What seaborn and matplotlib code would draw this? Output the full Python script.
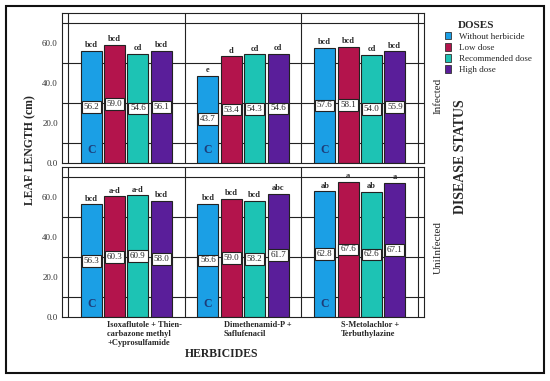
#recreate the leaf length bar chart (infected / uninfected panels)
import numpy as np
import pandas as pd
import seaborn as sns
import matplotlib.pyplot as plt
import matplotlib.transforms as mtransforms
from matplotlib.patches import Rectangle

herbicides = ["Isoxaflutole + Thien-\ncarbazone methyl\n+Cyprosulfamide",
              "Dimethenamid-P +\nSaflufenacil",
              "S-Metolachlor +\nTerbuthylazine"]
doses = ["Without herbicide", "Low dose", "Recommended dose", "High dose"]
colors = ["#1b9fe5", "#b3144c", "#1dc3b4", "#5a1e9a"]

#values per herbicide, in dose order
infected = [[56.2, 59.0, 54.6, 56.1],
            [43.7, 53.4, 54.3, 54.6],
            [57.6, 58.1, 54.0, 55.9]]
infected_letters = [["bcd", "bcd", "cd", "bcd"],
                    ["e", "d", "cd", "cd"],
                    ["bcd", "bcd", "cd", "bcd"]]
uninfected = [[56.3, 60.3, 60.9, 58.0],
              [56.6, 59.0, 58.2, 61.7],
              [62.8, 67.6, 62.6, 67.1]]
uninfected_letters = [["bcd", "a-d", "a-d", "bcd"],
                      ["bcd", "bcd", "bcd", "abc"],
                      ["ab", "a", "ab", "a"]]

sns.set_style("white")
plt.rcParams['font.family'] = ['Liberation Serif', 'DejaVu Serif']

fig = plt.figure(figsize=(5.5, 3.81), dpi=100)
ax_top = fig.add_axes([62/550, 1-163/381, 362/550, 150/381])
ax_bot = fig.add_axes([62/550, 1-317/381, 362/550, 150/381])


def long_df(values):
    rows = []
    for h, herb in enumerate(herbicides):
        for d, dose in enumerate(doses):
            rows.append({"herbicide": herb, "dose": dose, "length": values[h][d]})
    return pd.DataFrame(rows)


def draw_panel(ax, values, letters, show_x):
    df = long_df(values)
    sns.barplot(data=df, x="herbicide", y="length", hue="dose", order=herbicides,
                hue_order=doses, palette=colors, saturation=1, width=0.8, gap=0.1,
                edgecolor="#222222", linewidth=0.8, legend=False, ax=ax)
    for d, cont in enumerate(ax.containers):
        for h, bar in enumerate(cont):
            x = bar.get_x() + bar.get_width() / 2
            v = values[h][d]
            ax.text(x, v / 2, f"{v:.1f}", ha="center", va="center", fontsize=6.5,
                    bbox=dict(boxstyle="square,pad=0.2", fc="white", ec="#222222", lw=0.8))
            ax.text(x, v + 0.8, letters[h][d], ha="center", va="bottom",
                    fontsize=6, fontweight="bold")
            if d == 0:
                ax.text(x, 6.5, "C", ha="center", va="center", fontsize=8.5,
                        fontweight="bold", color="#1d3c78")
    ax.set_xlim(-0.55, 2.55)
    ax.set_ylim(0, 75)
    ax.set_yticks([0, 20, 40, 60])
    ax.set_yticklabels(["0.0", "20.0", "40.0", "60.0"], fontsize=6.5, color="#333333")
    ax.set_yticks([10, 30, 50, 70], minor=True)
    ax.set_xticks([-0.5, 0.5, 1.5, 2.5], minor=True)
    ax.grid(False)
    ax.grid(which="minor", color="#222222", lw=0.8)
    ax.set_axisbelow(True)
    ax.tick_params(which="both", length=0)
    ax.tick_params(axis="y", pad=3)
    ax.set_xlabel("")
    ax.set_ylabel("")
    for s in ax.spines.values():
        s.set_color("#222222")
        s.set_linewidth(0.8)
    if show_x:
        ax.tick_params(axis="x", pad=3)
        offset = mtransforms.ScaledTranslation(-19/100, 0, fig.dpi_scale_trans)
        for lbl in ax.get_xticklabels():
            lbl.set_fontsize(6)
            lbl.set_fontweight("bold")
            lbl.set_ha("left")
            lbl.set_multialignment("left")
            lbl.set_linespacing(1.15)
            lbl.set_transform(lbl.get_transform() + offset)
    else:
        ax.set_xticklabels([])


draw_panel(ax_top, infected, infected_letters, False)
draw_panel(ax_bot, uninfected, uninfected_letters, True)

fig.text(30/550, 1-150/381, "LEAF LENGTH (cm)", rotation=90, ha="center", va="center",
         fontsize=8.5, fontweight="bold")
fig.text(222/550, 1-354/381, "HERBICIDES", ha="center", va="center",
         fontsize=8.5, fontweight="bold")
fig.text(438/550, 1-96/381, "Infected", rotation=90, ha="center", va="center", fontsize=8)
fig.text(438/550, 1-247/381, "UniInfected", rotation=90, ha="center", va="center", fontsize=8)
fig.text(461/550, 1-157/381, "DISEASE STATUS", rotation=90, ha="center", va="center",
         fontsize=10, fontweight="bold")

#legend
handles = [Rectangle((0, 0), 1, 1, fc=c, ec="#333333", lw=0.6) for c in colors]
fig.text(458/550, 1-25/381, "DOSES", ha="left", va="center", fontsize=8, fontweight="bold")
fig.legend(handles, doses, loc="upper left", bbox_to_anchor=(445/550, 1-32/381),
           frameon=False, fontsize=6.5, handlelength=0.7, handleheight=0.9,
           handletextpad=0.8, labelspacing=0.25, borderpad=0, borderaxespad=0)

#outer frame
fig.patches.append(Rectangle((6/550, 8/381), 538/550, 367/381, transform=fig.transFigure,
                             fill=False, ec="#111111", lw=1.5))

plt.savefig("out.png", dpi=100)
